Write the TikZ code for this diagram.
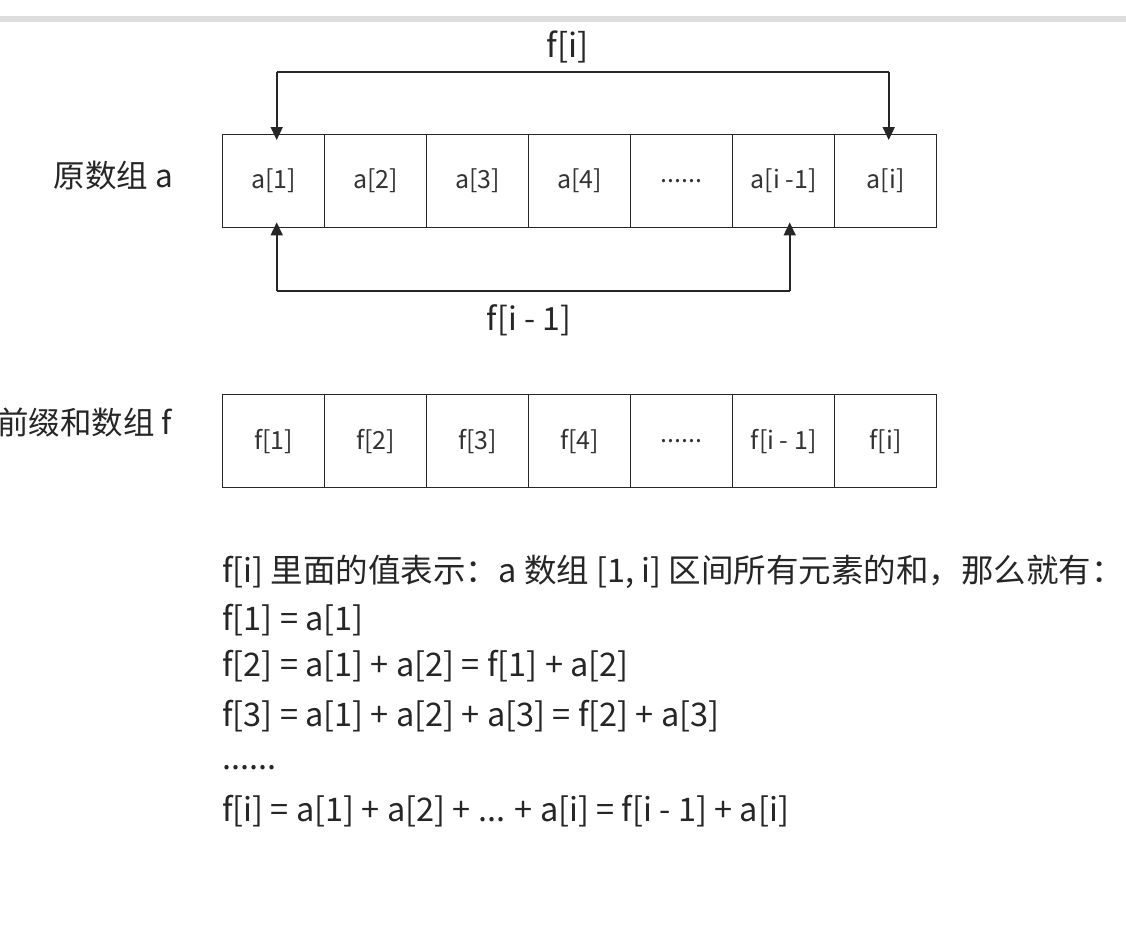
\documentclass[tikz,border=0pt]{standalone}
\usepackage{fontspec}
\setmainfont{Noto Sans CJK SC}
\usetikzlibrary{arrows.meta}
\newcommand\mysixdots{......}
\begin{document}
\begin{tikzpicture}[x=1pt,y=-1pt,
  cell/.style={draw=black!85,line width=1.4pt,minimum width=102pt,minimum height=93pt,inner sep=0pt,anchor=north west,font=\fontsize{25}{30}\selectfont,text=black!80},
  conn/.style={draw=black!85,line width=1.7pt,-{Triangle[length=13pt,width=12pt]}},
  lbl/.style={font=\fontsize{31.5}{36}\selectfont,text=black!85,inner sep=0pt},
  body/.style={font=\fontsize{32.5}{38}\selectfont,text=black!85,inner sep=0pt,anchor=west}]
\useasboundingbox (0,0) rectangle (1126,935);
\fill[fill=white] (0,0) rectangle (1126,935);
\fill[fill=black!13] (0,16) rectangle (1126,22);
% array a
\foreach \t [count=\k] in {a[1],a[2],a[3],a[4],\mysixdots,a[i -1],a[i]}
  \node[cell] (a\k) at ({222+102*(\k-1)},134) {\raisebox{-2pt}{\t}};
% array f
\foreach \t [count=\k] in {f[1],f[2],f[3],f[4],\mysixdots,f[i - 1],f[i]}
  \node[cell] (f\k) at ({222+102*(\k-1)},394) {\raisebox{-1pt}{\t}};
% labels
\node[lbl,anchor=east] (la) at (173,176) {原数组 a};
\node[lbl,anchor=east] (lf) at (172,422) {前缀和数组 f};
% top connector
\coordinate (t1) at ([xshift=3pt]a1.north |- 0,72);
\coordinate (t2) at ([xshift=3pt]a7.north |- 0,72);
\draw[conn] (t1) -- ([xshift=3pt,yshift=-6pt]a1.north);
\draw[conn] (t2) -- ([xshift=3pt,yshift=-6pt]a7.north);
\draw[draw=black!85,line width=1.7pt] (t1) -- (t2);
\node[lbl,font=\fontsize{33}{38}\selectfont] (fi) at (568,47) {f[i]};
% bottom connector
\coordinate (b1) at ([xshift=3pt]a1.south |- 0,291);
\coordinate (b2) at ([xshift=6pt]a6.south |- 0,291);
\draw[conn] (b1) -- ([xshift=3pt,yshift=6pt]a1.south);
\draw[conn] (b2) -- ([xshift=6pt,yshift=6pt]a6.south);
\draw[draw=black!85,line width=1.7pt] (b1) -- (b2);
\node[lbl,font=\fontsize{32}{37}\selectfont] (fim) at (529,320) {f[i - 1]};
% body text
\node[body] (l1) at (222,572) {f[i] 里面的值表示：a 数组 [1, i] 区间所有元素的和，那么就有：};
\node[body] (l2) at (222,620) {f[1] = a[1]};
\node[body] (l3) at (222,666) {f[2] = a[1] + a[2] = f[1] + a[2]};
\node[body] (l4) at (222,716) {f[3] = a[1] + a[2] + a[3] = f[2] + a[3]};
\node[body] (l5) at (222,768) {\mysixdots};
\node[body] (l6) at (222,811) {f[i] = a[1] + a[2] + ... + a[i] = f[i - 1] + a[i]};
\end{tikzpicture}
\end{document}
